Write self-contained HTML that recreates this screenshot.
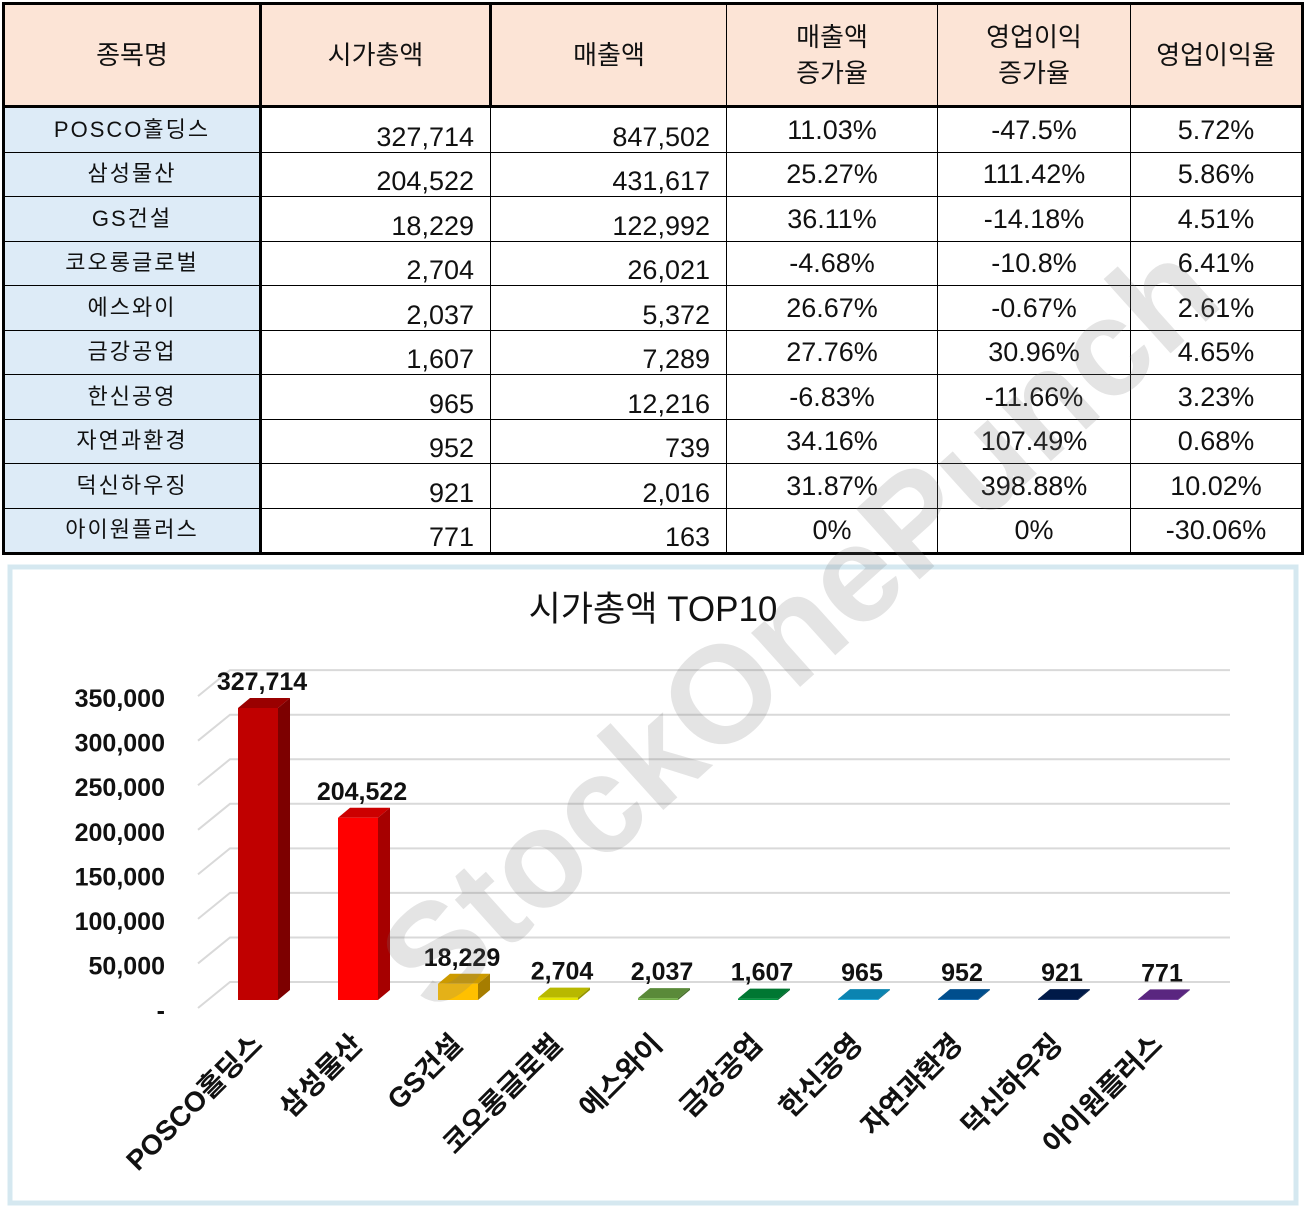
<!DOCTYPE html>
<html><head><meta charset="utf-8">
<style>
body{margin:0;width:1306px;height:1214px;background:#fff;overflow:hidden;font-family:"Liberation Sans","Noto Sans CJK KR",sans-serif;}
table{position:absolute;left:2px;top:2px;border-collapse:collapse;}
td{border:1px solid #000;padding:0;font-size:27px;color:#111;height:43.5px;line-height:30px;}
tr.h td{background:#fce4d6;height:100px;text-align:center;font-size:26px;line-height:36px;}
td.n{background:#ddebf7;text-align:center;font-size:22px;letter-spacing:2px;}
td.v{text-align:right;padding-right:16px;vertical-align:bottom;}
td.p{text-align:center;}
#chart{position:absolute;left:0;top:0;}
</style></head><body>
<table>
<colgroup><col style="width:257px"><col style="width:230px"><col style="width:236px"><col style="width:211px"><col style="width:193px"><col style="width:172px"></colgroup>
<tr class="h"><td style="border-left:3px solid #000;border-top:3px solid #000;border-right:3px solid #000;border-bottom:3px solid #000">종목명</td><td style="border-top:3px solid #000;border-right:3px solid #000;border-bottom:3px solid #000">시가총액</td><td style="border-top:3px solid #000;border-bottom:3px solid #000">매출액</td><td style="border-top:3px solid #000;border-bottom:3px solid #000">매출액<br>증가율</td><td style="border-top:3px solid #000;border-bottom:3px solid #000">영업이익<br>증가율</td><td style="border-top:3px solid #000;border-right:3px solid #000;border-bottom:3px solid #000">영업이익율</td></tr>
<tbody id="tb"></tbody>
</table>
<svg id="chart" width="1306" height="1214"></svg>
<script>
const names=["POSCO홀딩스","삼성물산","GS건설","코오롱글로벌","에스와이","금강공업","한신공영","자연과환경","덕신하우징","아이원플러스"];
const caps=[327714,204522,18229,2704,2037,1607,965,952,921,771];
const sales=["847,502","431,617","122,992","26,021","5,372","7,289","12,216","739","2,016","163"];
const salesGr=["11.03%","25.27%","36.11%","-4.68%","26.67%","27.76%","-6.83%","34.16%","31.87%","0%"];
const opGr=["-47.5%","111.42%","-14.18%","-10.8%","-0.67%","30.96%","-11.66%","107.49%","398.88%","0%"];
const opMargin=["5.72%","5.86%","4.51%","6.41%","2.61%","4.65%","3.23%","0.68%","10.02%","-30.06%"];
const yTicks=[0,50000,100000,150000,200000,250000,300000,350000];
const colors=["#c00000","#ff0000","#ffc000","#e6e600","#70ad47","#00953f","#0ea5dd","#0062b0","#00205a","#7030a0"];
const tb=document.getElementById('tb');
names.forEach((n,i)=>{
 const tr=document.createElement('tr');
 
 
 const last=i===names.length-1?'border-bottom:3px solid #000;':'';
 tr.innerHTML=`<td class="n" style="border-left:3px solid #000;border-right:3px solid #000;${last}">${n}</td><td class="v" style="${last}">${caps[i].toLocaleString('en-US')}</td><td class="v" style="${last}">${sales[i]}</td><td class="p" style="${last}">${salesGr[i]}</td><td class="p" style="${last}">${opGr[i]}</td><td class="p" style="border-right:3px solid #000;${last}">${opMargin[i]}</td>`;
 tb.appendChild(tr);
});
const NS="http://www.w3.org/2000/svg";
const svg=document.getElementById('chart');
function mk(t,a,txt){const e=document.createElementNS(NS,t);for(const k in a)e.setAttribute(k,a[k]);if(txt!==undefined)e.textContent=txt;svg.appendChild(e);return e;}
const base=1000, scale=292/327714, dx=12, dy=10;
const yS=v=>base-v*scale;
const xC=i=>258+i*100;
let e;
e=mk('rect',{x:10,y:567,width:1286,height:636,fill:'#fff',stroke:'#d5e8f0','stroke-width':5});


e=mk('text',{x:653,y:621,'text-anchor':'middle','font-size':35,fill:'#111'},'시가총액 TOP10');


yTicks.forEach(v=>{
 const y=yS(v);
 const l=mk('path',{d:`M198 ${y+8} L230 ${y-18} L1230 ${y-18}`,stroke:'#d9d9d9','stroke-width':2,fill:'none'});
 
 
 const t=mk('text',{x:165,y:y+19,'text-anchor':'end','font-size':25,'font-weight':'bold',fill:'#111'},v===0?'-':v.toLocaleString('en-US'));
 
 
});
function shade(c,f){const n=parseInt(c.slice(1),16);const r=Math.round((n>>16)*f),g=Math.round(((n>>8)&255)*f),b=Math.round((n&255)*f);return `rgb(${r},${g},${b})`;}
caps.forEach((v,i)=>{
 const x=xC(i)-20,w=40,top=yS(v),c=colors[i];
 const g=document.createElementNS(NS,'g');svg.appendChild(g);
 
 
 const add=(d,f)=>{const p=document.createElementNS(NS,'path');p.setAttribute('d',d);p.setAttribute('fill',f);g.appendChild(p);};
 add(`M${x} ${top} L${x+dx} ${top-dy} L${x+w+dx} ${top-dy} L${x+w} ${top}Z`,shade(c,0.8));
 add(`M${x+w} ${top} L${x+w+dx} ${top-dy} L${x+w+dx} ${base-dy} L${x+w} ${base}Z`,shade(c,0.65));
 add(`M${x} ${top} L${x+w} ${top} L${x+w} ${base} L${x} ${base}Z`,c);
 const t=mk('text',{x:xC(i)+4,y:top-dy-8,'text-anchor':'middle','font-size':25,'font-weight':'bold',fill:'#111'},v.toLocaleString('en-US'));
 
 
 const c2=mk('text',{x:0,y:0,'text-anchor':'end','font-size':28,'font-weight':'bold',fill:'#111',transform:`translate(${xC(i)+6},${1046}) rotate(-45)`},names[i]);
 
 
});
e=mk('text',{x:0,y:0,'text-anchor':'middle','font-size':138,'font-weight':'bold',fill:'rgba(120,120,120,0.2)',transform:'translate(830,660) rotate(-42)'},'StockOnePunch');


</script>
</body></html>
